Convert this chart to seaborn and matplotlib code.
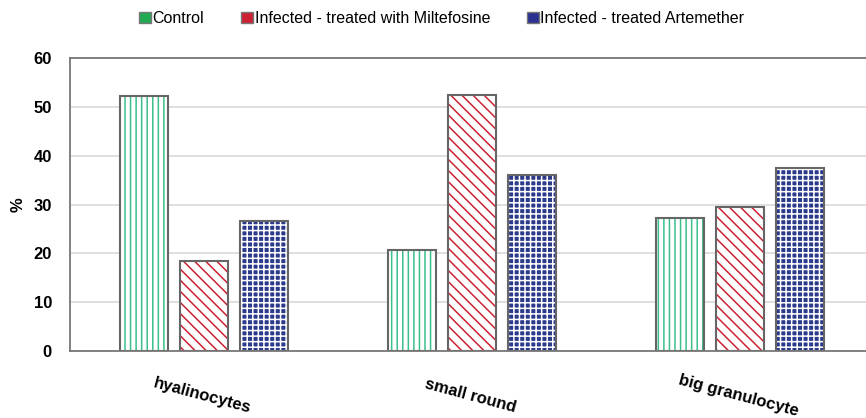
import pandas as pd
import matplotlib.pyplot as plt
import seaborn as sns
from matplotlib.patches import Patch

# Datos
categorias = ['hyalinocytes', 'small round', 'big granulocyte']
grupos = ['Control', 'Infected - treated with Miltefosine', 'Infected - treated Artemether']
control = [52.3, 20.6, 27.2]
miltefosine = [18.4, 52.4, 29.4]
artemether = [26.6, 36.1, 37.5]

filas = []
for i, cat in enumerate(categorias):
    for grupo, valores in zip(grupos, [control, miltefosine, artemether]):
        filas.append({'Tipo': cat, 'Grupo': grupo, 'Valor': valores[i]})
df = pd.DataFrame(filas)

sns.set_theme(style="white")
plt.rcParams['font.family'] = ['Liberation Sans', 'DejaVu Sans']
plt.rcParams['hatch.linewidth'] = 1.1
plt.rcParams['text.color'] = 'black'
plt.rcParams['xtick.color'] = 'black'
plt.rcParams['ytick.color'] = 'black'
plt.rcParams['axes.labelcolor'] = 'black'

fig = plt.figure(figsize=(8.66, 4.18), dpi=100)
ax = fig.add_axes([0.0808, 0.1603, 0.9192, 0.7009])

# Colores de relleno, de rayado y de leyenda
rellenos = ['white', 'white', '#2b3a8a']
rayados = ['#3cc08a', '#cc2233', 'white']
tramas = ['|||', '\\\\\\', '+++']
leyenda_col = ['#22aa55', '#cc2233', '#2b3190']

# Primera capa: barras con rayado
sns.barplot(data=df, x='Tipo', y='Valor', hue='Grupo', order=categorias,
            hue_order=grupos, width=0.673, gap=0.21, ax=ax, legend=False,
            palette=['white'] * 3, linewidth=0)
n = len(categorias)
for j, p in enumerate(ax.patches):
    g = j // n
    p.set_facecolor(rellenos[g])
    p.set_edgecolor(rayados[g])
    p.set_hatch(tramas[g])
    p.set_linewidth(0)

# Segunda capa: contorno gris
sns.barplot(data=df, x='Tipo', y='Valor', hue='Grupo', order=categorias,
            hue_order=grupos, width=0.673, gap=0.21, ax=ax, legend=False,
            fill=False, palette=['#666666'] * 3, linewidth=1.5)

ax.set_xlim(-0.5, 2.47)
ax.set_ylim(0, 60)
ax.set_yticks(range(0, 61, 10))
ax.yaxis.grid(True, color='#dcdcdc', linewidth=1.3)
ax.set_axisbelow(True)
for lado in ['left', 'bottom', 'top']:
    ax.spines[lado].set_color('#777777')
    ax.spines[lado].set_linewidth(1.3)
ax.spines['right'].set_visible(False)

ax.set_xlabel('')
ax.set_ylabel('%', fontsize=12, fontweight='bold', labelpad=6)
ax.tick_params(axis='y', length=0, pad=13, labelsize=12)
ax.tick_params(axis='x', length=0, pad=27, labelsize=12)
for t in ax.get_yticklabels():
    t.set_fontweight('bold')
for t in ax.get_xticklabels():
    t.set_fontweight('bold')
    t.set_rotation(-15)
    t.set_ha('center')
    t.set_rotation_mode('anchor')

handles = [Patch(facecolor=c, edgecolor='#777777', linewidth=1) for c in leyenda_col]
fig.legend(handles, grupos, loc='upper center', bbox_to_anchor=(0.51, 1.008), ncol=3,
           frameon=False, fontsize=11.5, handlelength=0.75, handleheight=0.75,
           handletextpad=0.1, columnspacing=2.3)

plt.savefig('out.png', dpi=100)
